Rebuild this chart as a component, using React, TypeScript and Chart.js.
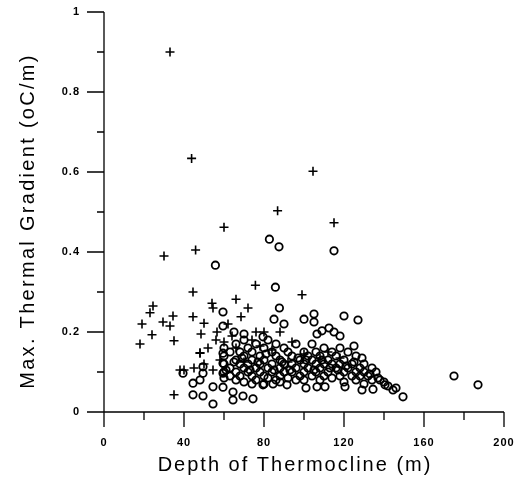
import React, { useEffect, useRef } from "react";
import { Chart, registerables } from "chart.js";
Chart.register(...registerables);

// Depth of thermocline (m), max thermal gradient (oC/m)
const plusDepth = [33, 43.8, 104.5, 86.8, 115, 60, 45.8, 30, 75.7, 99, 44.5, 24.5, 23, 34.5, 19, 29.5, 33, 24, 18, 35, 44.5, 54, 54.5, 66, 72, 68.5, 50, 48.5, 56.5, 60, 48, 35, 62, 64, 66, 76, 78, 80, 84, 88, 94, 100, 108, 118, 56, 52, 50, 45, 40, 48, 54.5, 58, 38, 70, 74, 92, 112];
const plusGrad = [0.9, 0.634, 0.602, 0.503, 0.473, 0.462, 0.405, 0.39, 0.317, 0.293, 0.3, 0.265, 0.248, 0.24, 0.22, 0.225, 0.215, 0.193, 0.17, 0.178, 0.238, 0.272, 0.26, 0.282, 0.26, 0.238, 0.222, 0.195, 0.2, 0.175, 0.148, 0.043, 0.22, 0.19, 0.16, 0.2, 0.165, 0.2, 0.155, 0.2, 0.175, 0.145, 0.135, 0.135, 0.18, 0.16, 0.12, 0.11, 0.105, 0.147, 0.105, 0.13, 0.105, 0.125, 0.18, 0.125, 0.15];

const circleDepth = [
  82.7, 87.5, 115, 55.7, 85.7, 87.7, 120, 127, 100, 105, 105, 85, 90, 59.5, 59.5, 65, 70, 79.5, 106.5, 109, 112.5, 115, 118, 125, 175, 187,
  44.5, 49.5, 54.5, 64.5, 69.5, 74.5, 64.5, 54.5, 44.5, 149.5, 144.5, 134.5, 129, 120.5, 110.5, 101, 106.5, 91.5, 84.5, 79.5, 59.5, 140.5,
  39.5, 48, 49.5, 49.5, 59.5, 59.5, 59.5,
  60, 60, 60, 60, 60, 63, 63, 63, 66, 66, 66, 66, 68, 68, 68, 70, 70, 70, 70, 72, 72, 72, 74, 74, 74, 74, 76, 76, 76, 78, 78, 78,
  80, 80, 80, 80, 82, 82, 82, 84, 84, 84, 86, 86, 86, 88, 88, 88, 88, 90, 90, 90, 92, 92, 94, 94, 94, 96, 96, 96, 98, 98,
  100, 100, 100, 100, 102, 102, 104, 104, 104, 106, 106, 106, 108, 108, 108, 110, 110, 110, 112, 112, 114, 114, 114, 116, 116,
  118, 118, 118, 120, 120, 120, 122, 122, 124, 124, 126, 126, 126, 128, 128, 130, 130, 130, 132, 134, 134, 136, 138, 140,
  61, 65, 69, 73, 77, 81, 85, 89, 93, 97, 101, 105, 109, 113, 117, 121, 125, 129, 133, 137, 142, 146
];
const circleGrad = [
  0.432, 0.413, 0.403, 0.367, 0.312, 0.26, 0.24, 0.23, 0.232, 0.245, 0.225, 0.232, 0.22, 0.25, 0.215, 0.2, 0.195, 0.188, 0.195, 0.203, 0.21, 0.2, 0.19, 0.165, 0.09, 0.068,
  0.043, 0.04, 0.02, 0.03, 0.04, 0.033, 0.05, 0.063, 0.072, 0.038, 0.055, 0.057, 0.055, 0.063, 0.063, 0.06, 0.063, 0.068, 0.07, 0.068, 0.062, 0.068,
  0.097, 0.08, 0.097, 0.113, 0.147, 0.122, 0.097,
  0.16, 0.14, 0.12, 0.1, 0.085, 0.15, 0.11, 0.09, 0.17, 0.13, 0.1, 0.08, 0.15, 0.12, 0.09, 0.18, 0.14, 0.11, 0.075, 0.16, 0.12, 0.1, 0.15, 0.13, 0.09, 0.07, 0.17, 0.11, 0.08, 0.14, 0.12, 0.1,
  0.16, 0.13, 0.09, 0.07, 0.18, 0.11, 0.085, 0.15, 0.12, 0.1, 0.17, 0.14, 0.08, 0.13, 0.11, 0.09, 0.075, 0.16, 0.12, 0.1, 0.15, 0.085, 0.14, 0.12, 0.1, 0.17, 0.11, 0.08, 0.13, 0.09,
  0.15, 0.12, 0.1, 0.08, 0.14, 0.11, 0.17, 0.13, 0.09, 0.15, 0.12, 0.1, 0.14, 0.11, 0.08, 0.16, 0.12, 0.09, 0.13, 0.1, 0.15, 0.12, 0.085, 0.14, 0.11,
  0.16, 0.12, 0.09, 0.13, 0.1, 0.075, 0.15, 0.11, 0.12, 0.09, 0.14, 0.1, 0.08, 0.11, 0.09, 0.12, 0.1, 0.07, 0.09, 0.11, 0.08, 0.1, 0.08, 0.075,
  0.105, 0.125, 0.135, 0.105, 0.125, 0.145, 0.105, 0.125, 0.105, 0.135, 0.13, 0.105, 0.13, 0.11, 0.105, 0.115, 0.125, 0.135, 0.095, 0.085, 0.065, 0.06
];

const xMajor = [0, 40, 80, 120, 160, 200];
const xMinor = [20, 60, 100, 140, 180];
const yMajor = [0, 0.2, 0.4, 0.6, 0.8, 1];
const yMinor = [0.1, 0.3, 0.5, 0.7, 0.9];
const xTitle = "Depth of Thermocline (m)";
const yTitle = "Max. Thermal Gradient (oC/m)";

const FONT = "Liberation Sans, Arial, sans-serif";

const axesPlugin = {
  id: "axesPlugin",
  beforeDraw(chart: any) {
    chart.ctx.letterSpacing = "1px";
  },
  afterDraw(chart: any) {
    const { ctx, chartArea } = chart;
    const xs = chart.scales.x;
    const ys = chart.scales.y;
    ctx.save();
    ctx.strokeStyle = "#000";
    ctx.lineWidth = 1.3;
    ctx.beginPath();
    ctx.moveTo(chartArea.left, chartArea.top);
    ctx.lineTo(chartArea.left, chartArea.bottom);
    ctx.lineTo(chartArea.right, chartArea.bottom);
    for (const v of yMajor) {
      const p = ys.getPixelForValue(v);
      ctx.moveTo(chartArea.left - 17, p);
      ctx.lineTo(chartArea.left, p);
    }
    for (const v of yMinor) {
      const p = ys.getPixelForValue(v);
      ctx.moveTo(chartArea.left - 7, p);
      ctx.lineTo(chartArea.left, p);
    }
    for (const v of xMajor) {
      const p = xs.getPixelForValue(v);
      ctx.moveTo(p, chartArea.bottom);
      ctx.lineTo(p, chartArea.bottom + 15);
    }
    for (const v of xMinor) {
      const p = xs.getPixelForValue(v);
      ctx.moveTo(p, chartArea.bottom);
      ctx.lineTo(p, chartArea.bottom + 8);
    }
    ctx.stroke();

    // axis titles
    ctx.fillStyle = "#000";
    ctx.font = `20px ${FONT}`;
    ctx.letterSpacing = "2px";
    ctx.textAlign = "center";
    ctx.textBaseline = "middle";
    ctx.fillText(xTitle, 295, 465);
    ctx.translate(28, 221);
    ctx.rotate(-Math.PI / 2);
    ctx.letterSpacing = "2.3px";
    ctx.fillText(yTitle, 0, 0);
    ctx.restore();
    ctx.letterSpacing = "0px";
  },
};

export default function App() {
  const ref = useRef<HTMLCanvasElement>(null);
  useEffect(() => {
    const plusData = plusDepth.map((x, i) => ({ x, y: plusGrad[i] }));
    const circData = circleDepth.map((x, i) => ({ x, y: circleGrad[i] }));
    const chart = new Chart(ref.current!, {
      type: "scatter",
      data: {
        datasets: [
          {
            data: plusData,
            pointStyle: "cross",
            radius: 4.5,
            borderColor: "#000",
            backgroundColor: "#000",
            borderWidth: 1.6,
          },
          {
            data: circData,
            pointStyle: "circle",
            radius: 3.7,
            borderColor: "#000",
            backgroundColor: "rgba(0,0,0,0)",
            borderWidth: 1.8,
          },
        ],
      },
      plugins: [axesPlugin],
      options: {
        animation: false,
        responsive: false,
        maintainAspectRatio: false,
        layout: { padding: { left: 0, top: 12, right: 15, bottom: 0 }, autoPadding: false },
        plugins: { legend: { display: false }, tooltip: { enabled: false } },
        scales: {
          x: {
            type: "linear",
            min: 0,
            max: 200,
            afterFit: (s: any) => {
              s.height = 72;
              s.paddingLeft = 0;
              s.paddingRight = 0;
            },
            afterBuildTicks: (s: any) => { s.ticks = xMajor.map((v) => ({ value: v })); },
            grid: { display: false, drawTicks: false },
            border: { display: false },
            ticks: {
              padding: 24,
              color: "#000",
              maxRotation: 0,
              font: { family: FONT, size: 11, weight: "bold" },
            },
            title: { display: false },
          },
          y: {
            type: "linear",
            min: 0,
            max: 1,
            afterFit: (s: any) => {
              s.width = 104;
              s.paddingTop = 0;
              s.paddingBottom = 0;
            },
            afterBuildTicks: (s: any) => { s.ticks = yMajor.map((v) => ({ value: v })); },
            grid: { display: false, drawTicks: false },
            border: { display: false },
            ticks: {
              padding: 24,
              color: "#000",
              font: { family: FONT, size: 11, weight: "bold" },
              callback: (v: any) => String(Math.round(Number(v) * 10) / 10),
            },
            title: { display: false },
          },
        },
      },
    });
    return () => chart.destroy();
  }, []);
  return (
    <div style={{ position: "absolute", left: 0, top: 0, width: 519, height: 484, background: "#fff" }}>
      <canvas ref={ref} width={519} height={484} />
    </div>
  );
}
